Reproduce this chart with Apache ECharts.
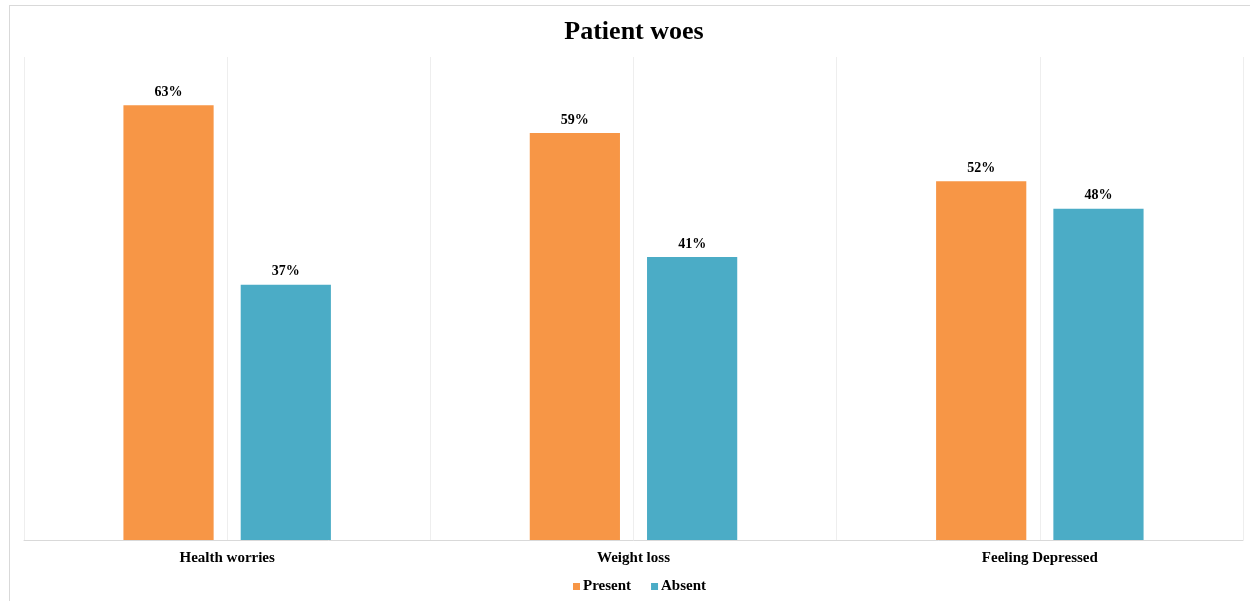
<!DOCTYPE html>
<html>
<head>
<meta charset="utf-8">
<script src="https://cdn.jsdelivr.net/npm/echarts@6/dist/echarts.min.js"></script>
<style>
html,body{margin:0;padding:0;background:#fff;}
#frame{position:absolute;left:9px;top:5px;width:1300px;height:700px;border:1px solid #d9d9d9;box-sizing:border-box;}
#chart{position:absolute;left:0;top:0;width:1250px;height:601px;}
</style>
</head>
<body>
<div id="frame"></div>
<div id="chart"></div>
<script>
const categories = ['Health worries', 'Weight loss', 'Feeling Depressed'];
const presentValues = [63, 59, 52];
const absentValues = [37, 41, 48];
const halfSlots = ['a', 'b', 'c', 'd', 'e', 'f'];

const font = '"Liberation Serif", "Times New Roman", serif';
const chart = echarts.init(document.getElementById('chart'));
const labelCfg = {
  show: true, position: 'top', distance: 6,
  formatter: p => p.value + '%',
  fontFamily: font, fontWeight: 'bold', fontSize: 14, color: '#000'
};
chart.setOption({
  animation: false,
  title: {
    text: 'Patient woes', left: 629, textAlign: 'center', top: 14,
    textStyle: { fontFamily: font, fontWeight: 'bold', fontSize: 26, color: '#000' }
  },
  legend: {
    bottom: 2, left: 568, itemWidth: 7, itemHeight: 7, itemGap: 20,
    icon: 'rect',
    textStyle: { fontFamily: font, fontWeight: 'bold', fontSize: 15, color: '#000', padding: [0,0,0,-2] },
    data: ['Present', 'Absent']
  },
  grid: { left: 24, right: 7, top: 57, bottom: 61 },
  xAxis: [
    {
      type: 'category', data: categories,
      axisLine: { lineStyle: { color: '#d9d9d9', width: 1 } },
      axisTick: { show: false },
      axisLabel: { fontFamily: font, fontWeight: 'bold', fontSize: 15, color: '#000', margin: 11 },
      splitLine: { show: false }
    },
    {
      type: 'category', data: halfSlots, position: 'bottom',
      axisLine: { show: false }, axisTick: { show: false }, axisLabel: { show: false },
      splitLine: { show: true, lineStyle: { color: '#eeeeee', width: 1 } }
    }
  ],
  yAxis: {
    type: 'value', min: 0, max: 70, show: false,
    splitLine: { show: false }
  },
  series: [
    {
      name: 'Present', type: 'bar', data: presentValues, xAxisIndex: 0,
      barWidth: '22.2%', barGap: '30%',
      itemStyle: { color: '#F79646' }, label: labelCfg
    },
    {
      name: 'Absent', type: 'bar', data: absentValues, xAxisIndex: 0,
      barWidth: '22.2%', barGap: '30%',
      itemStyle: { color: '#4BACC6' }, label: labelCfg
    }
  ]
});
</script>
</body>
</html>
